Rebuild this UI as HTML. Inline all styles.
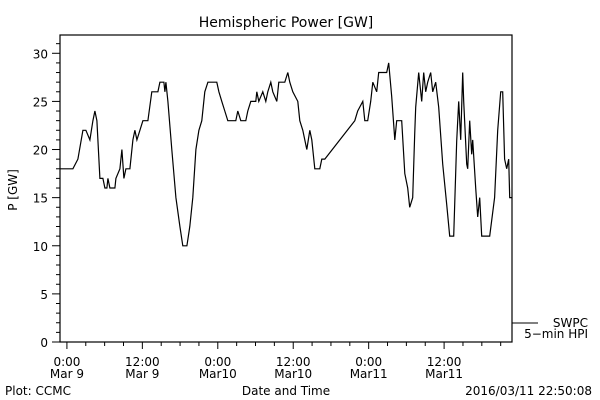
<!DOCTYPE html>
<html><head><meta charset="utf-8"><style>
body{margin:0;background:#fff}
svg{display:block;font-family:"DejaVu Sans","Liberation Sans",sans-serif}
text{fill:#000;font-size:12px}
</style></head><body>
<svg id="chart" width="600" height="400">
<text x="286" y="27" text-anchor="middle" font-size="14" style="font-size:14px">Hemispheric Power [GW]</text>
<g id="axes"></g>
<path id="series" fill="none" stroke="#000" stroke-width="1.2"></path>
<text x="17" y="190" text-anchor="middle" transform="rotate(-90 17 190)">P [GW]</text>
<text x="286" y="395" text-anchor="middle">Date and Time</text>
<text x="5" y="395">Plot: CCMC</text>
<text x="592" y="395" text-anchor="end">2016/03/11 22:50:08</text>
<line x1="512" y1="323" x2="538" y2="323" stroke="#000"/>
<text x="588" y="327" text-anchor="end">SWPC</text>
<text x="588" y="338" text-anchor="end">5−min HPI</text>
</svg>
<script>
const yTicks=[0,5,10,15,20,25,30];
const xTickHours=[0,12,24,36,48,60];
const xTickTime=["0:00","12:00","0:00","12:00","0:00","12:00"];
const xTickDate=["Mar 9","Mar 9","Mar10","Mar10","Mar11","Mar11"];
const pxX=[60,73,78,83,86,90,93,95,97,100,103,105,107,108,110,115,116,120,122,124,126,130,133,135,137,140,143,148,152,158,160,164,165,166,168,172,176,180,183,187,190,193,196,199,202,205,208,217,219,222,225,228,236,238,241,246,248,251,256,257,259,263,266,268,271,273,277,279,285,288,290,293,298,300,303,307,310,312,315,320,322,325,355,358,363,365,368,371,373,377,379,387,389,392,395,397,402,405,408,410,413,415,416,419,422,424,426,428,431,433,436,439,443,447,450,454,457,459,461,463,464,467,468,470,472,473,476,478,480,482,490,495,498,501,503,505,507,509,510,512];
const hours=pxX.map(p=>+((p-67)/6.29).toFixed(2));
const power=[18,18,19,22,22,21,23,24,23,17,17,16,16,17,16,16,17,18,20,17,18,18,21,22,21,22,23,23,26,26,27,27,26,27,25,20,15,12,10,10,12,15,20,22,23,26,27,27,26,25,24,23,23,24,23,23,24,25,25,26,25,26,25,26,27,26,25,27,27,28,27,26,25,23,22,20,22,21,18,18,19,19,23,24,25,23,23,25,27,26,28,28,29,25.5,21,23,23,17.5,16,14,15,21.6,24.4,28,25,28,26,27,28,26,27,24.4,18.5,14.3,11,11,20.9,25,21,28,25,18.5,18,23,19.5,21,16,13,15,11,11,15,22,26,26,19,18,19,15,15];
const L=60,R=512,T=35,B=342,h0=-1.1,h1=70.8,v0=0,v1=31.9;
const X=h=>L+(h-h0)/(h1-h0)*(R-L);
const Y=v=>B-(v-v0)/(v1-v0)*(B-T);
const NS="http://www.w3.org/2000/svg";
const ax=document.getElementById('axes');
function mk(t,a){const e=document.createElementNS(NS,t);for(const k in a)e.setAttribute(k,a[k]);ax.appendChild(e);return e;}
const frame=mk('rect',{x:L,y:T,width:R-L,height:B-T,fill:'none',stroke:'#000','stroke-width':1.2});


for(let v=0;v<=31;v++){const m=v%5===0;const t=mk('line',{x1:L-(m?8:4),x2:L,y1:Y(v),y2:Y(v),stroke:'#000'});

}
yTicks.forEach(v=>{const t=mk('text',{x:L-12,y:Y(v)+5,'text-anchor':'end'});t.textContent=v;

});
for(let h=0;h<=h1;h+=3){const m=h%12===0;const t=mk('line',{x1:X(h),x2:X(h),y1:B,y2:B+(m?7:4),stroke:'#000'});

}
xTickHours.forEach((h,i)=>{const a=mk('text',{x:X(h),y:B+24,'text-anchor':'middle'});a.textContent=xTickTime[i];


const b=mk('text',{x:X(h),y:B+36,'text-anchor':'middle'});b.textContent=xTickDate[i];

});
document.getElementById('series').setAttribute('d',hours.map((h,i)=>(i?'L':'M')+X(h).toFixed(1)+','+Y(power[i]).toFixed(1)).join(''));
</script>
</body></html>
